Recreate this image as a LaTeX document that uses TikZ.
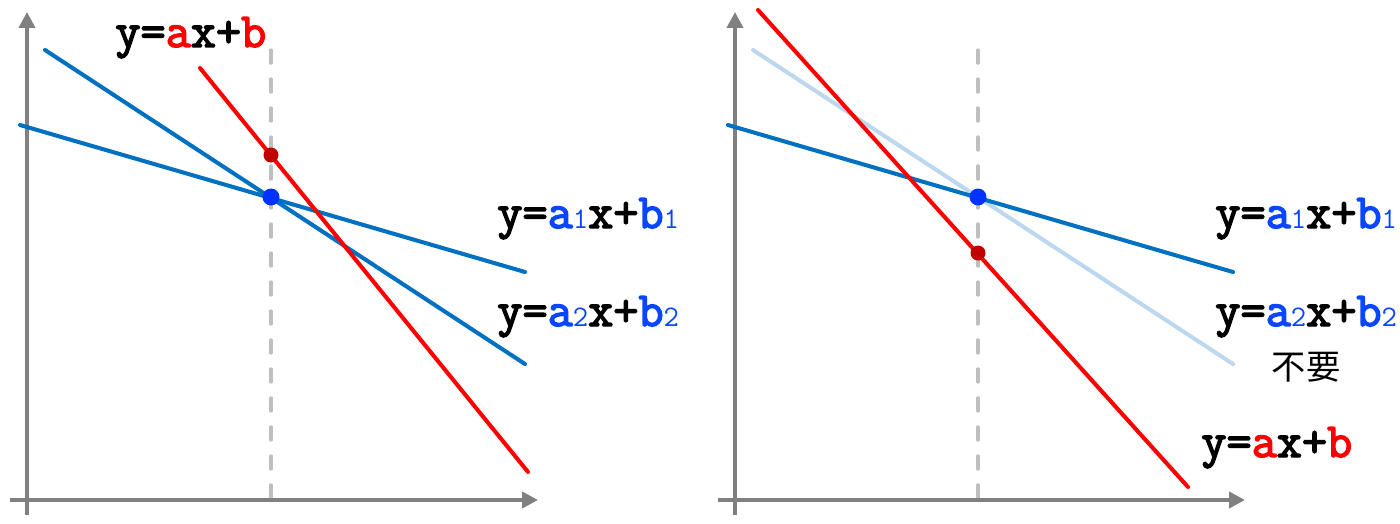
\documentclass[tikz,border=0pt]{standalone}
\usepackage{fontspec}
\setmonofont{Latin Modern Mono}[AutoFakeBold=3]
\newfontfamily\cjk{Noto Sans CJK JP}
\usetikzlibrary{arrows.meta}
\definecolor{axisgray}{RGB}{128,128,128}
\definecolor{dashgray}{RGB}{191,191,191}
\definecolor{lineblue}{RGB}{0,112,192}
\definecolor{paleblue}{RGB}{189,215,238}
\definecolor{linered}{RGB}{255,0,0}
\definecolor{dotred}{RGB}{192,0,0}
\definecolor{dotblue}{RGB}{0,51,255}
\definecolor{txtblue}{RGB}{10,70,255}
\newcommand\subd[1]{{\fontsize{17}{17}\selectfont\mdseries #1}}
\begin{document}
\begin{tikzpicture}[x=0.02cm,y=-0.02cm,
  axis/.style={draw=axisgray,line width=2.3pt,-{Triangle[length=9pt,width=9pt]}},
  guide/.style={draw=dashgray,line width=1.8pt,dash pattern=on 7.5pt off 9pt,line cap=round},
  bline/.style={draw=lineblue,line width=2.3pt,line cap=round},
  pline/.style={draw=paleblue,line width=2.3pt,line cap=round},
  rline/.style={draw=linered,line width=2.3pt,line cap=round},
  lab/.style={inner sep=0pt,anchor=base west,font=\fontsize{27.8}{30}\selectfont\ttfamily\bfseries},
  jlab/.style={inner sep=0pt,anchor=base,font=\fontsize{19.5}{21}\selectfont\cjk}]
\useasboundingbox (0,0) rectangle (1400,524);
% ---------- left panel ----------
\coordinate (Lyb) at (27,515); \coordinate (Lyt) at (27,12);
\coordinate (Lxl) at (10,500); \coordinate (Lxr) at (538,500);
\coordinate (Ldt) at (271,50); \coordinate (Ldb) at (271,500);
\draw[guide] (Ldt) -- (Ldb);
\draw[axis] (Lyb) -- (Lyt);
\draw[axis] (Lxl) -- (Lxr);
\coordinate (L1a) at (20,125); \coordinate (L1b) at (525,272);
\coordinate (L2a) at (45,50); \coordinate (L2b) at (525,364);
\coordinate (Lra) at (200,68); \coordinate (Lrb) at (528,472);
\draw[bline] (L1a) -- (L1b);
\draw[bline] (L2a) -- (L2b);
\draw[rline] (Lra) -- (Lrb);
\fill[dotred] (271,155) circle[radius=7.5];
\fill[dotblue] (271,197) circle[radius=8.5];
\node[lab] (Lt0) at (115,47) {y=\textcolor{linered}{a}x+\textcolor{linered}{b}};
\node[lab] (Lt1) at (497,228) {y=\textcolor{txtblue}{a\subd{1}}x+\textcolor{txtblue}{b\subd{1}}};
\node[lab] (Lt2) at (497,326) {y=\textcolor{txtblue}{a\subd{2}}x+\textcolor{txtblue}{b\subd{2}}};
% ---------- right panel ----------
\coordinate (Ryb) at (735,515); \coordinate (Ryt) at (735,12);
\coordinate (Rxl) at (718,500); \coordinate (Rxr) at (1245,500);
\coordinate (Rdt) at (978,50); \coordinate (Rdb) at (978,500);
\draw[guide] (Rdt) -- (Rdb);
\draw[axis] (Ryb) -- (Ryt);
\draw[axis] (Rxl) -- (Rxr);
\coordinate (R1a) at (728,125); \coordinate (R1b) at (1233,272);
\coordinate (R2a) at (753,50); \coordinate (R2b) at (1233,364);
\coordinate (Rra) at (758,10); \coordinate (Rrb) at (1188,487);
\draw[pline] (R2a) -- (R2b);
\draw[bline] (R1a) -- (R1b);
\draw[rline] (Rra) -- (Rrb);
\fill[dotred] (978,253) circle[radius=7.5];
\fill[dotblue] (978,197) circle[radius=8.5];
\node[lab] (Rt1) at (1215,228) {y=\textcolor{txtblue}{a\subd{1}}x+\textcolor{txtblue}{b\subd{1}}};
\node[lab] (Rt2) at (1215,326) {y=\textcolor{txtblue}{a\subd{2}}x+\textcolor{txtblue}{b\subd{2}}};
\node[jlab] (Rt3) at (1306,379) {不要};
\node[lab] (Rt0) at (1201,457) {y=\textcolor{linered}{a}x+\textcolor{linered}{b}};
\end{tikzpicture}
\end{document}
